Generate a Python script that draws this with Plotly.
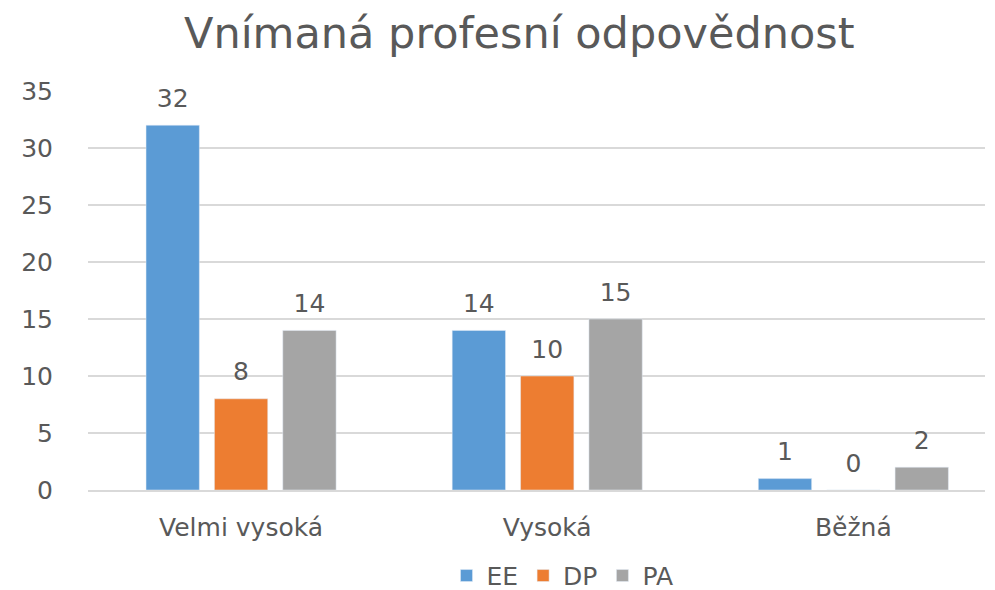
import plotly.graph_objects as go

categories = ["Velmi vysoká", "Vysoká", "Běžná"]
series_names = ["EE", "DP", "PA"]
ee_values = [32, 14, 1]
dp_values = [8, 10, 0]
pa_values = [14, 15, 2]
colors = ["#5B9BD5", "#ED7D31", "#A5A5A5"]
y_ticks = [0, 5, 10, 15, 20, 25, 30, 35]

text_color = "#595959"
font_family = "DejaVu Sans, Verdana, sans-serif"
GAP = 0.33

fig = go.Figure()
all_vals = [ee_values, dp_values, pa_values]
for name, vals, col in zip(series_names, all_vals, colors):
    fig.add_trace(go.Bar(
        name=name, x=categories, y=vals, marker_color=col,
        offsetgroup=name, showlegend=True,
    ))
for name, vals in zip(series_names, all_vals):
    fig.add_trace(go.Scatter(
        x=categories, y=vals, mode="markers+text", offsetgroup=name,
        text=[str(v) for v in vals], textposition="top center",
        textfont=dict(size=25, color=text_color, family=font_family),
        marker=dict(size=18, opacity=0), showlegend=False, hoverinfo="skip",
        cliponaxis=False,
    ))

fig.update_layout(
    width=987, height=582,
    paper_bgcolor="white", plot_bgcolor="white",
    margin=dict(l=80, r=10, t=83, b=100, autoexpand=False),
    barmode="group", bargap=GAP, bargroupgap=0.22,
    scattermode="group", scattergap=GAP,
    title=dict(text="Vnímaná profesní odpovědnost", x=0.518, xanchor="center",
               y=0.958, yanchor="middle",
               font=dict(size=43, color=text_color, family=font_family)),
    font=dict(family=font_family, color=text_color, size=25),
    showlegend=True,
    legend=dict(orientation="h", x=0.529, xanchor="center", y=-0.215, yanchor="middle",
                font=dict(size=25, color=text_color), traceorder="normal"),
)
fig.update_yaxes(range=[0, 35], tickvals=y_ticks, showgrid=True, gridcolor="#D9D9D9",
                 gridwidth=1.5, zeroline=False, showline=False, automargin=False,
                 tickfont=dict(size=25, color=text_color), ticklabelstandoff=34)
fig.update_xaxes(range=[-0.5, 2.43], showline=True, linecolor="#D9D9D9", linewidth=1.5,
                 automargin=False,
                 tickfont=dict(size=25, color=text_color), ticks="", ticklabelstandoff=14)

fig.write_html("out.html")
